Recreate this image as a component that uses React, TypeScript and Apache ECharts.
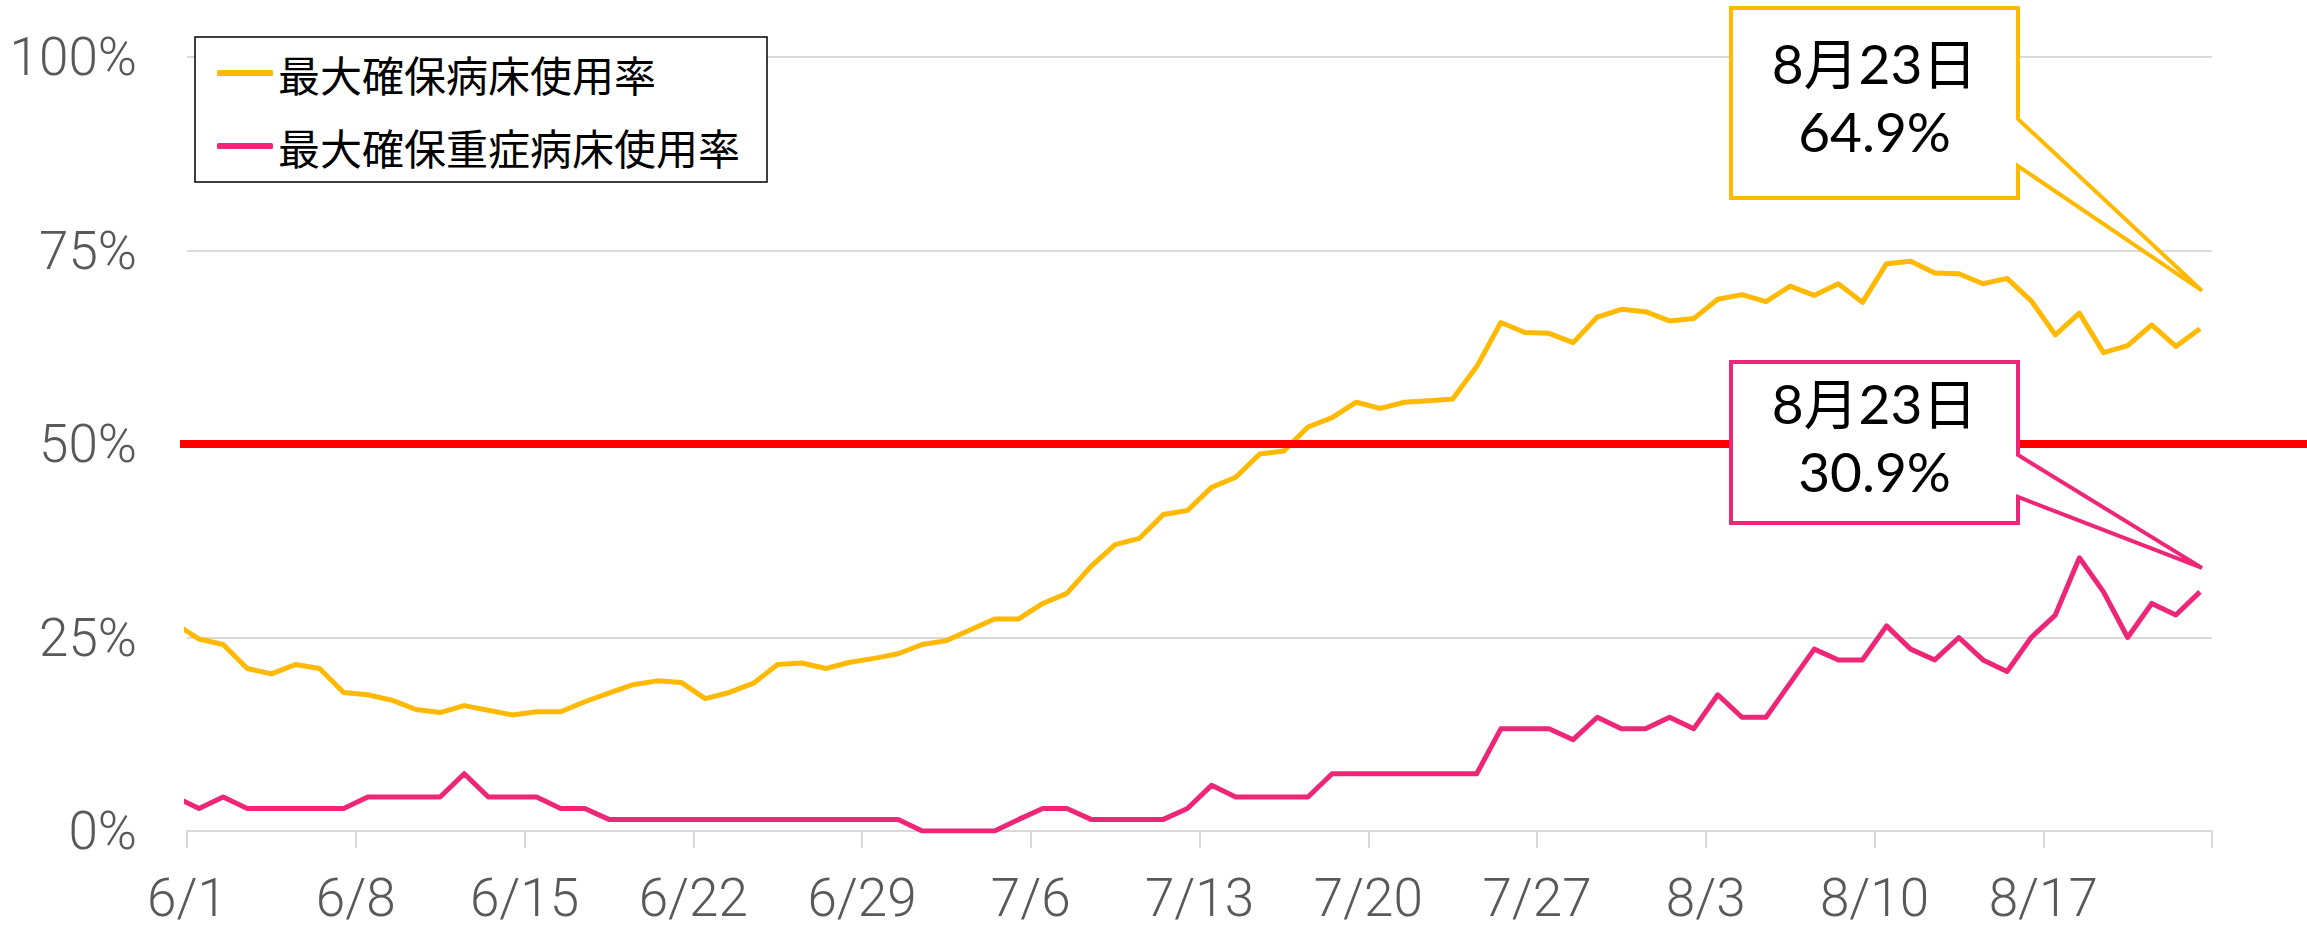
import React, { useEffect, useRef } from 'react';
import * as echarts from 'echarts';

// Dates (5/31 is partly clipped at the left edge of the axis)
const dates = [
  '5/31',
  '6/1', '6/2', '6/3', '6/4', '6/5', '6/6', '6/7', '6/8', '6/9', '6/10',
  '6/11', '6/12', '6/13', '6/14', '6/15', '6/16', '6/17', '6/18', '6/19', '6/20',
  '6/21', '6/22', '6/23', '6/24', '6/25', '6/26', '6/27', '6/28', '6/29', '6/30',
  '7/1', '7/2', '7/3', '7/4', '7/5', '7/6', '7/7', '7/8', '7/9', '7/10',
  '7/11', '7/12', '7/13', '7/14', '7/15', '7/16', '7/17', '7/18', '7/19', '7/20',
  '7/21', '7/22', '7/23', '7/24', '7/25', '7/26', '7/27', '7/28', '7/29', '7/30', '7/31',
  '8/1', '8/2', '8/3', '8/4', '8/5', '8/6', '8/7', '8/8', '8/9', '8/10',
  '8/11', '8/12', '8/13', '8/14', '8/15', '8/16', '8/17', '8/18', '8/19', '8/20',
  '8/21', '8/22', '8/23',
];

const seriesNames = ['最大確保病床使用率', '最大確保重症病床使用率'];

// 最大確保病床使用率 (%)
const bedRate = [
  26.8,
  24.8, 24.1, 21.0, 20.3, 21.5, 21.0, 17.9, 17.6, 16.9, 15.7,
  15.3, 16.2, 15.6, 15.0, 15.4, 15.4, 16.7, 17.8, 18.9, 19.4,
  19.2, 17.1, 17.9, 19.1, 21.5, 21.7, 21.0, 21.8, 22.3, 22.9,
  24.1, 24.6, 26.0, 27.4, 27.4, 29.4, 30.7, 34.2, 37.0, 37.8,
  40.9, 41.4, 44.4, 45.7, 48.7, 49.1, 52.2, 53.4, 55.4, 54.6,
  55.4, 55.6, 55.8, 60.0, 65.7, 64.4, 64.3, 63.1, 66.4, 67.4,
  67.1, 65.9, 66.2, 68.7, 69.3, 68.4, 70.4, 69.2, 70.7, 68.3,
  73.3, 73.6, 72.1, 72.0, 70.7, 71.4, 68.5, 64.1, 66.9, 61.8,
  62.7, 65.4, 62.6, 64.9,
];

// 最大確保重症病床使用率 (%)
const severeRate = [
  4.4,
  2.9, 4.4, 2.9, 2.9, 2.9, 2.9, 2.9, 4.4, 4.4, 4.4,
  4.4, 7.4, 4.4, 4.4, 4.4, 2.9, 2.9, 1.5, 1.5, 1.5,
  1.5, 1.5, 1.5, 1.5, 1.5, 1.5, 1.5, 1.5, 1.5, 1.5,
  0, 0, 0, 0, 1.5, 2.9, 2.9, 1.5, 1.5, 1.5,
  1.5, 2.9, 5.9, 4.4, 4.4, 4.4, 4.4, 7.4, 7.4, 7.4,
  7.4, 7.4, 7.4, 7.4, 13.2, 13.2, 13.2, 11.8, 14.7, 13.2,
  13.2, 14.7, 13.2, 17.6, 14.7, 14.7, 19.1, 23.5, 22.1, 22.1,
  26.5, 23.5, 22.1, 25.0, 22.1, 20.6, 25.0, 27.9, 35.3, 30.9,
  25.0, 29.4, 27.9, 30.9,
];

const thresholdRate = 50;
const yMin = 0;
const yMax = 100;
const yInterval = 25;
const xInterval = 7; // weekly ticks
const xMax = 84; // 6/1 .. 8/24 boundary

const YELLOW = '#FFB900';
const PINK = '#EE2677';
const RED = '#FF0000';
const GRAY_TEXT = '#595959';
const GRID_GRAY = '#D9D9D9';

export default function App() {
  const ref = useRef<HTMLDivElement>(null);

  useEffect(() => {
    document.body.style.margin = '0';
    const chart = echarts.init(ref.current as HTMLDivElement, undefined, { renderer: 'svg' });

    // each day plotted at the middle of its day slot; dates[1] (6/1) starts at 0
    const toPoints = (vals: number[]) => vals.map((v, i) => [i - 0.5, v]);

    chart.setOption({
      animation: false,
      backgroundColor: '#ffffff',
      grid: { left: 187, right: 95, top: 57, bottom: 96, containLabel: false },
      legend: {
        data: seriesNames,
        orient: 'vertical',
        left: 195,
        top: 37,
        icon: 'roundRect',
        itemWidth: 56,
        itemHeight: 6,
        itemGap: 23,
        padding: [11, 27, 11, 22],
        backgroundColor: '#ffffff',
        borderColor: '#000000',
        borderWidth: 1.5,
        z: 10,
        textStyle: {
          fontFamily: '"Noto Sans CJK JP", sans-serif',
          fontSize: 42,
          lineHeight: 50,
          color: '#000000',
        },
      },
      xAxis: {
        type: 'value',
        min: 0,
        max: xMax,
        interval: xInterval,
        axisLine: { show: true, lineStyle: { color: GRID_GRAY, width: 2 } },
        axisTick: { show: true, length: 17, lineStyle: { color: GRID_GRAY, width: 2 } },
        splitLine: { show: false },
        axisLabel: {
          margin: 40,
          color: GRAY_TEXT,
          fontFamily: 'Roboto, sans-serif',
          fontWeight: 300,
          fontSize: 53,
          showMaxLabel: true,
          formatter: (v: number) => (v < xMax ? dates[v + 1] ?? '' : ''),
        },
      },
      yAxis: {
        type: 'value',
        min: yMin,
        max: yMax,
        interval: yInterval,
        axisLine: { show: false },
        axisTick: { show: false },
        splitLine: { show: true, lineStyle: { color: GRID_GRAY, width: 2 } },
        axisLabel: {
          margin: 50,
          color: GRAY_TEXT,
          fontFamily: 'Roboto, sans-serif',
          fontWeight: 300,
          fontSize: 53,
          formatter: '{value}%',
        },
      },
      series: [
        {
          name: seriesNames[0],
          type: 'line',
          data: toPoints(bedRate),
          showSymbol: false,
          symbol: 'none',
          clip: true,
          color: YELLOW,
          lineStyle: { color: YELLOW, width: 5, join: 'round' },
          z: 3,
        },
        {
          name: seriesNames[1],
          type: 'line',
          data: toPoints(severeRate),
          showSymbol: false,
          symbol: 'none',
          clip: true,
          color: PINK,
          lineStyle: { color: PINK, width: 5, join: 'round' },
          z: 4,
        },
      ],
    });

    const last = dates.length - 1;
    const yRed = chart.convertToPixel({ yAxisIndex: 0 }, thresholdRate) as number;
    const pBed = chart.convertToPixel({ gridIndex: 0 }, [last - 0.5, bedRate[last]]) as number[];
    const pSev = chart.convertToPixel({ gridIndex: 0 }, [last - 0.5, severeRate[last]]) as number[];
    const dateText = dates[last].replace('/', '月') + '日';

    const label = (x: number, y: number, text: string) => ({
      type: 'text',
      z: 101,
      x,
      y,
      style: {
        text,
        fill: '#000000',
        fontFamily: 'Lato, "Noto Sans CJK JP", sans-serif',
        fontSize: 55,
        lineHeight: 58,
        align: 'center',
        verticalAlign: 'middle',
      },
    });

    const callout = (
      L: number, T: number, R: number, B: number,
      b1: number, b2: number, tip: number[], color: string,
      line1: string, line2: string, y1: number, y2: number,
    ) => [
      {
        type: 'polygon',
        z: 100,
        shape: { points: [[L, T], [R, T], [R, b1], tip, [R, b2], [R, B], [L, B]] },
        style: { fill: '#ffffff', stroke: color, lineWidth: 4, lineJoin: 'miter' },
      },
      label((L + R) / 2, y1, line1),
      label((L + R) / 2, y2, line2),
    ];

    chart.setOption({
      graphic: [
        {
          type: 'line',
          z: 50,
          shape: { x1: 180, y1: yRed, x2: 2307, y2: yRed },
          style: { stroke: RED, lineWidth: 8 },
        },
        ...callout(1731, 8, 2018, 198, 119, 166, [pBed[0] + 2, pBed[1] - 38], YELLOW,
          dateText, `${bedRate[last].toFixed(1)}%`, 63, 131),
        ...callout(1731, 362, 2018, 523, 455, 497, [pSev[0] + 2, pSev[1] - 24], PINK,
          dateText, `${severeRate[last].toFixed(1)}%`, 403, 471),
      ],
    });

    return () => chart.dispose();
  }, []);

  return <div ref={ref} style={{ width: 2307, height: 927 }} />;
}
